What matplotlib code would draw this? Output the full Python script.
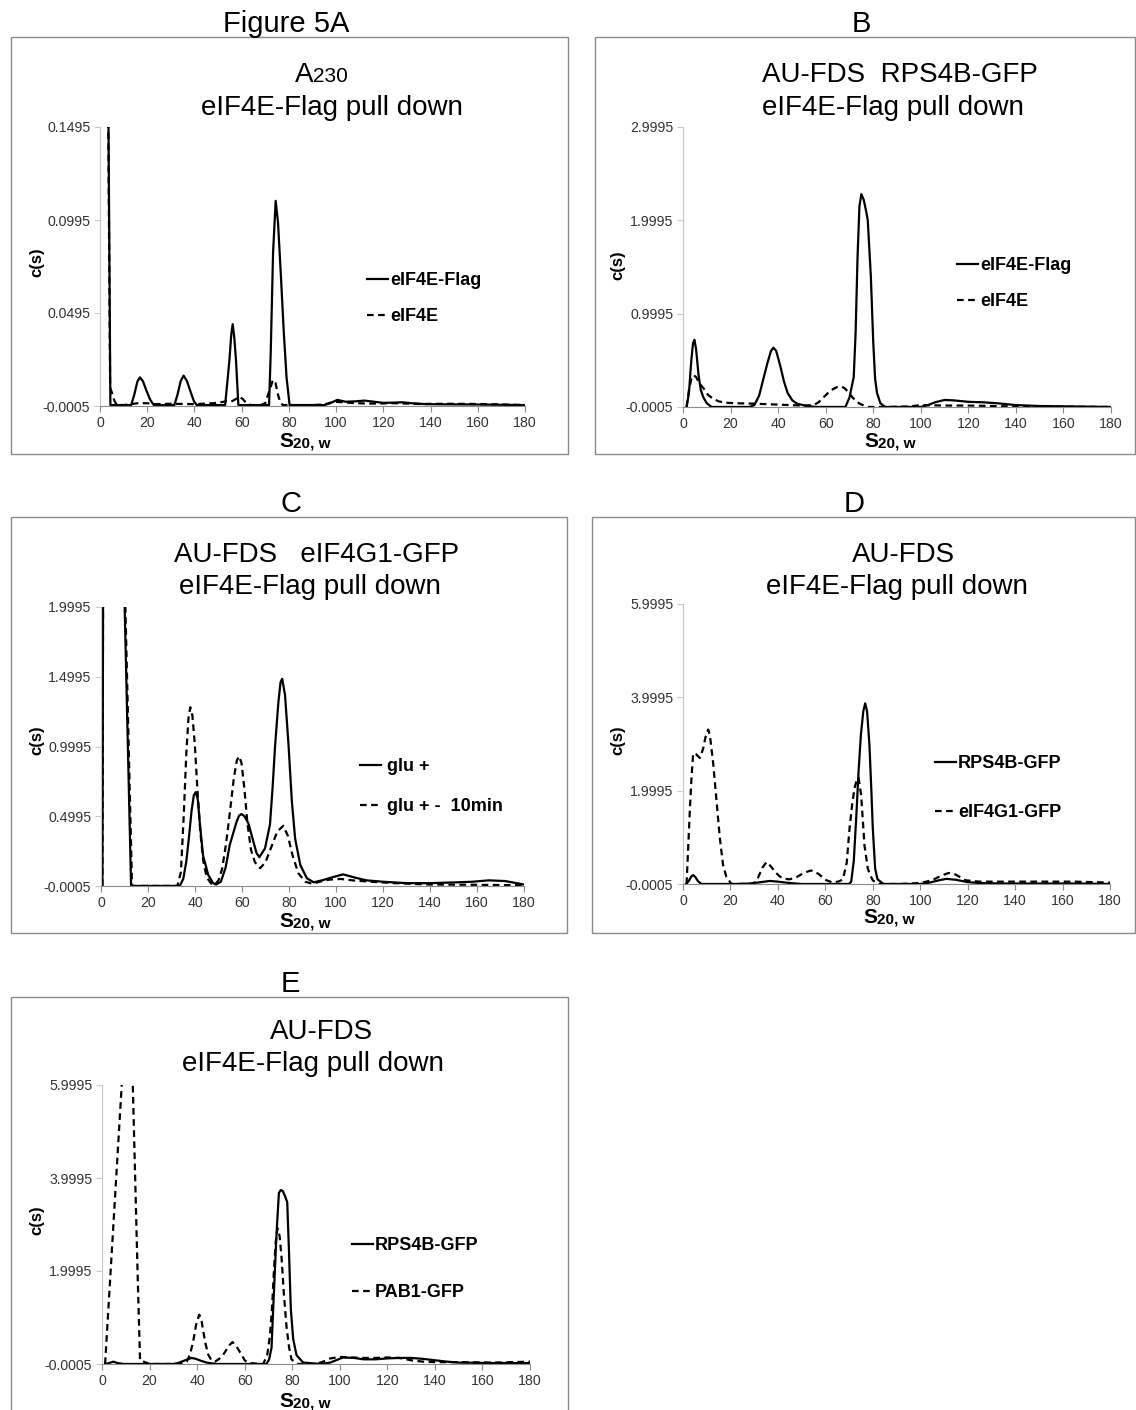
"""Figure 5: c(s) sedimentation profiles of eIF4E-Flag pull downs (panels A-E)."""

import matplotlib

matplotlib.use("Agg")
import matplotlib.pyplot as plt
from matplotlib.patches import Rectangle

W, H = 1136, 1410
INK = "#000000"
TICK_INK = "#333333"
BOX_GREY = "#8a8a8a"
LEFT_GREY = "#c8c8c8"
BOTTOM_GREY = "#8c8c8c"
DASH = (0, (3.0, 2.0))

plt.rcParams["font.family"] = ["Liberation Sans", "DejaVu Sans"]

X_TICKS = list(range(0, 181, 20))

# --- A: A230, eIF4E-Flag vs eIF4E -------------------------------------------
A_YTICKS = [-0.0005, 0.0495, 0.0995, 0.1495]
A_YLABELS = ["-0.0005", "0.0495", "0.0995", "0.1495"]
A_FLAG_X = [3.0, 3.6, 4.4, 6.0,
            13.2, 14.5, 15.8, 16.9, 18.2, 19.6, 21.2, 22.8,
            31.5, 32.8, 34.2, 35.4, 36.8, 38.4, 39.8, 41.0,
            53.0, 54.8, 55.6, 56.2, 56.9, 57.6, 58.6,
            71.6, 72.3, 73.3, 74.4, 75.4, 76.6, 77.8, 79.0, 80.3,
            95, 97.5, 100.5, 104, 108, 112, 116, 120, 124, 128, 132, 138, 145, 160, 180]
A_FLAG_Y = [0.30, 0.15, 0.0, 0.0,
            0.0, 0.0055, 0.0125, 0.0149, 0.0128, 0.0080, 0.0030, 0.0,
            0.0, 0.0055, 0.0130, 0.0158, 0.0130, 0.0070, 0.0020, 0.0,
            0.0, 0.024, 0.038, 0.0435, 0.036, 0.024, 0.0,
            0.0, 0.028, 0.082, 0.1098, 0.098, 0.070, 0.040, 0.015, 0.0,
            0.0, 0.0010, 0.0028, 0.0018, 0.0020, 0.0024, 0.0018, 0.0012, 0.0013, 0.0015,
            0.0010, 0.0005, 0.0004, 0.0003, 0.0]
A_CTRL_X = [2.8, 3.5, 4.3, 5.2, 6.2, 7.2,
            10, 13, 16, 20, 23, 30, 40, 48, 51, 53.5, 55.5, 57.5, 59.0, 60.5, 62.0, 64.0,
            68.0, 70.0, 71.0, 72.0, 73.2, 74.3, 75.5, 76.5, 77.5,
            90, 95, 99, 103, 108, 115, 125, 135, 150, 165, 180]
A_CTRL_Y = [0.30, 0.15, 0.0095, 0.0060, 0.0020, 0.0,
            0.0, 0.0005, 0.0010, 0.0010, 0.0005, 0.0007, 0.0005, 0.0010, 0.0015, 0.0020,
            0.0018, 0.0032, 0.0045, 0.0032, 0.0010, 0.0,
            0.0, 0.0010, 0.0050, 0.0085, 0.0135, 0.0120, 0.0050, 0.0010, 0.0,
            0.0, 0.0003, 0.0018, 0.0015, 0.0010, 0.0008, 0.0010, 0.0006, 0.0007, 0.0005, 0.0]

# --- B: AU-FDS RPS4B-GFP ------------------------------------------------------
B_YTICKS = [-0.0005, 0.9995, 1.9995, 2.9995]
B_YLABELS = ["-0.0005", "0.9995", "1.9995", "2.9995"]
B_FLAG_X = [1.5, 2.5, 3.5, 4.2, 4.8, 5.5, 6.5, 7.5, 8.6, 10.0, 12.0,
            28.0, 30.0, 32.0, 34.0, 35.5, 37.0, 38.0, 39.2, 40.8, 42.5, 44.0, 46.0, 48.0, 52.0, 56.0,
            68.3, 70.0, 71.8, 72.6, 73.4, 74.2, 75.0, 76.0, 77.0, 77.7, 79.0, 80.0, 80.8, 81.6, 83.0, 85.0,
            100, 103, 106, 110, 114, 120, 126, 132, 140, 150, 165, 180]
B_FLAG_Y = [0.0, 0.15, 0.50, 0.68, 0.72, 0.62, 0.35, 0.18, 0.10, 0.04, 0.0,
            0.0, 0.02, 0.12, 0.32, 0.47, 0.60, 0.635, 0.60, 0.45, 0.27, 0.15, 0.07, 0.035, 0.01, 0.0,
            0.0, 0.10, 0.32, 0.80, 1.60, 2.15, 2.28, 2.22, 2.10, 2.00, 1.40, 0.70, 0.30, 0.15, 0.04, 0.0,
            0.0, 0.02, 0.05, 0.075, 0.07, 0.055, 0.05, 0.04, 0.02, 0.01, 0.005, 0.0]
B_CTRL_X = [1.5, 2.5, 3.5, 4.5, 5.5, 7.0, 8.6, 10.5, 12.5, 15.0, 18.0, 22.0, 30.0, 40.0, 50.0,
            55.0, 57.0, 59.0, 61.0, 63.0, 65.0, 66.5, 68.0, 69.5, 71.0, 72.5, 74.0, 76.0, 78.0,
            85, 95, 100, 110, 120, 130, 140, 150, 165, 180]
B_CTRL_Y = [0.0, 0.18, 0.30, 0.34, 0.32, 0.25, 0.20, 0.13, 0.09, 0.06, 0.045, 0.04, 0.035, 0.025, 0.015,
            0.02, 0.05, 0.10, 0.15, 0.19, 0.215, 0.22, 0.20, 0.16, 0.11, 0.07, 0.04, 0.015, 0.0,
            0.0, 0.005, 0.02, 0.015, 0.015, 0.01, 0.005, 0.003, 0.002, 0.0]

# --- C: AU-FDS eIF4G1-GFP, glu + vs glu +- 10min ----------------------------
C_YTICKS = [-0.0005, 0.4995, 0.9995, 1.4995, 1.9995]
C_YLABELS = ["-0.0005", "0.4995", "0.9995", "1.4995", "1.9995"]
C_GLU_X = [0.6, 1.0, 9.5, 10.0, 12.8, 14.0, 33.5,
           35.0, 36.3, 37.5, 38.5, 39.5, 40.3, 41.2, 42.0, 43.4, 45.6, 47.7, 49.0,
           51.0, 53.0, 54.8, 57.7, 58.8, 59.8, 61.0, 62.7, 64.8, 66.2, 67.4,
           69.8, 71.9, 73.0, 74.1, 75.5, 76.4, 77.1, 78.3, 79.8, 81.2, 82.6, 84.8, 87.6, 90.5,
           94, 98, 103, 108, 113, 120, 130, 140, 150, 158, 165, 172, 180]
C_GLU_Y = [0.0, 3.0, 3.0, 2.05, 0.0, 0.0, 0.0,
           0.05, 0.175, 0.36, 0.534, 0.65, 0.672, 0.62, 0.46, 0.22, 0.08, 0.02, 0.01,
           0.03, 0.13, 0.295, 0.46, 0.505, 0.515, 0.50, 0.45, 0.32, 0.235, 0.206,
           0.27, 0.44, 0.70, 1.01, 1.32, 1.46, 1.485, 1.37, 1.01, 0.61, 0.34, 0.15, 0.055, 0.026,
           0.04, 0.06, 0.083, 0.06, 0.04, 0.03, 0.02, 0.02, 0.025, 0.03, 0.04, 0.035, 0.01]
C_SHIFT_X = [0.6, 1.0, 9.8, 10.3, 13.2, 14.5, 32.5,
             34.0, 35.2, 36.3, 37.2, 38.0, 38.9, 39.9, 41.0, 42.2, 43.5, 45.0, 47.0, 48.5,
             50.0, 51.5, 53.2, 55.0, 56.5, 57.8, 58.8, 59.8, 61.0, 62.3, 63.8, 65.5, 67.7,
             70.0, 72.5, 75.0, 77.6, 79.5, 81.5, 84.0, 87.0, 90.0, 93.0, 97.0, 102.0, 107.0,
             115.0, 125.0, 140.0, 160.0, 180.0]
C_SHIFT_Y = [0.0, 3.0, 3.0, 2.05, 0.0, 0.0, 0.0,
             0.10, 0.50, 0.95, 1.20, 1.281, 1.22, 1.02, 0.70, 0.40, 0.18, 0.06, 0.015, 0.01,
             0.04, 0.12, 0.30, 0.55, 0.77, 0.90, 0.929, 0.88, 0.70, 0.45, 0.26, 0.17, 0.127,
             0.17, 0.28, 0.39, 0.431, 0.36, 0.22, 0.09, 0.03, 0.015, 0.03, 0.045, 0.05, 0.04,
             0.03, 0.02, 0.01, 0.008, 0.005]

# --- D: AU-FDS, RPS4B-GFP vs eIF4G1-GFP --------------------------------------
DE_YTICKS = [-0.0005, 1.9995, 3.9995, 5.9995]
DE_YLABELS = ["-0.0005", "1.9995", "3.9995", "5.9995"]
D_RPS_X = [1.3, 2.5, 3.5, 4.3, 5.2, 6.3, 7.8,
           15.0, 22.0, 28.0, 33.0, 36.6, 40.0, 45.0, 50.0, 60.0, 70.0,
           70.9, 72.0, 73.0, 74.0, 75.0, 76.0, 76.8, 77.6, 78.6, 79.4, 80.0, 81.0, 82.0, 84.5,
           100, 104, 108, 111, 115, 120, 125, 135, 150, 165, 180]
D_RPS_Y = [0.0, 0.07, 0.16, 0.19, 0.15, 0.06, 0.0,
           0.0, 0.0, 0.01, 0.04, 0.065, 0.05, 0.02, 0.0, 0.0, 0.0,
           0.05, 0.5, 1.4, 2.4, 3.2, 3.7, 3.87, 3.7, 2.97, 2.0, 1.2, 0.33, 0.10, 0.0,
           0.0, 0.03, 0.08, 0.11, 0.09, 0.04, 0.02, 0.01, 0.01, 0.01, 0.0]
D_G1_X = [1.5, 2.2, 2.9, 3.6, 4.3, 5.5, 7.1, 8.5, 9.5, 10.6, 11.3, 12.7, 14.1, 15.5, 16.9, 18.3, 20.4,
          25.0, 29.6, 31.5, 33.5, 35.2, 37.0, 39.0, 40.8, 43.0, 45.0, 48.0, 51.0, 54.0, 57.0,
          60.4, 63.2, 66.0, 67.4,
          69.0, 70.2, 71.3, 72.3, 73.2, 74.0, 75.1, 76.5, 77.9, 79.0, 80.0, 81.3, 82.8,
          92, 100, 105, 109, 112, 115, 119, 125, 135, 150, 165, 180]
D_G1_Y = [0.0, 0.8, 1.6, 2.3, 2.8, 2.78, 2.70, 2.90, 3.15, 3.31, 3.2, 2.6, 1.8, 1.0, 0.4, 0.15, 0.0,
          0.0, 0.0, 0.12, 0.35, 0.47, 0.38, 0.25, 0.16, 0.11, 0.10, 0.15, 0.24, 0.29, 0.22,
          0.08, 0.03, 0.06, 0.10,
          0.45, 1.19, 1.70, 2.05, 2.22, 2.28, 1.90, 0.83, 0.33, 0.18, 0.08, 0.03, 0.0,
          0.0, 0.02, 0.08, 0.18, 0.236, 0.20, 0.08, 0.05, 0.05, 0.05, 0.05, 0.03]

# --- E: AU-FDS, RPS4B-GFP vs PAB1-GFP ----------------------------------------
E_RPS_X = [1.5, 3.0, 4.8, 6.5, 9.0, 20.0, 30.0,
           32.0, 34.0, 36.0, 37.7, 39.5, 41.5, 44.0, 48.0, 60.0, 69.2,
           70.3, 71.3, 72.0, 72.7, 73.4, 74.4, 75.2, 76.0, 76.9, 77.9, 78.6, 79.4, 80.4, 81.8, 84.6,
           92, 96, 101.4, 106, 110, 115, 120, 125, 130, 135, 140, 145, 150, 165, 180]
E_RPS_Y = [0.0, 0.02, 0.05, 0.02, 0.0, 0.0, 0.0,
           0.02, 0.06, 0.10, 0.13, 0.11, 0.07, 0.03, 0.0, 0.0, 0.0,
           0.1, 0.35, 1.19, 2.0, 2.8, 3.68, 3.74, 3.72, 3.62, 3.48, 2.48, 1.19, 0.54, 0.19, 0.03,
           0.0, 0.03, 0.14, 0.13, 0.10, 0.10, 0.12, 0.13, 0.13, 0.11, 0.08, 0.05, 0.03, 0.02, 0.02]
E_PAB_X = [1.3, 2.5, 4.0, 5.5, 7.0, 8.3, 10.6, 12.9, 14.0, 15.0, 16.0, 20.0, 33.0,
           35.6, 37.0, 38.4, 39.6, 40.9, 41.8, 42.6, 43.6, 44.7, 46.0, 47.5, 49.0, 50.3, 52.0,
           53.5, 54.9, 56.5, 58.7, 60.0, 61.5, 67.8,
           69.5, 70.6, 71.5, 72.3, 73.0, 73.8, 74.7, 75.5, 76.5, 77.6, 78.7, 79.7, 82.0,
           90, 93, 96, 100, 105, 110, 115, 120, 125, 130, 135, 140, 150, 165, 180]
E_PAB_Y = [0.0, 1.03, 2.31, 3.6, 4.89, 6.0, 8.0, 6.1, 3.9, 1.9, 0.08, 0.0, 0.0,
           0.05, 0.2, 0.5, 0.85, 1.06, 0.95, 0.7, 0.42, 0.2, 0.08, 0.05, 0.1, 0.15, 0.28,
           0.4, 0.47, 0.38, 0.2, 0.08, 0.02, 0.0,
           0.2, 0.6, 1.2, 2.0, 2.6, 2.92, 2.75, 2.3, 1.5, 0.8, 0.35, 0.1, 0.0,
           0.0, 0.05, 0.12, 0.15, 0.14, 0.13, 0.13, 0.14, 0.13, 0.08, 0.05, 0.04, 0.04, 0.03, 0.05]

# Layout in reference pixels (x right, y down).
PANELS = [
    dict(letter="Figure 5A", letter_xy=(286, 32), box=(11, 37, 568, 454),
         axes=(100, 525, 127, 406), title=("A230", "eIF4E-Flag pull down"),
         title_x=(320, 332), title_y=(82, 115),
         yticks=A_YTICKS, ylabels=A_YLABELS,
         solid=(A_FLAG_X, A_FLAG_Y), dashed=(A_CTRL_X, A_CTRL_Y),
         labels=("eIF4E-Flag", "eIF4E"), legend=(367, 280, 317), pad=0.12,
         ylab=(37, 262), xlab=(305, 447)),
    dict(letter="B", letter_xy=(861, 32), box=(595, 37, 1135, 454),
         axes=(683, 1111, 127, 407), title=("AU-FDS  RPS4B-GFP", "eIF4E-Flag pull down"),
         title_x=(900, 893), title_y=(82, 115),
         yticks=B_YTICKS, ylabels=B_YLABELS,
         solid=(B_FLAG_X, B_FLAG_Y), dashed=(B_CTRL_X, B_CTRL_Y),
         labels=("eIF4E-Flag", "eIF4E"), legend=(957, 265, 302), pad=0.12,
         ylab=(618, 265), xlab=(890, 447)),
    dict(letter="C", letter_xy=(291, 512), box=(11, 517, 567, 933),
         axes=(101, 524, 607, 886), title=("AU-FDS   eIF4G1-GFP", "eIF4E-Flag pull down"),
         title_x=(317, 310), title_y=(562, 594),
         yticks=C_YTICKS, ylabels=C_YLABELS,
         solid=(C_GLU_X, C_GLU_Y), dashed=(C_SHIFT_X, C_SHIFT_Y),
         labels=("glu +", "glu + -  10min"), legend=(360, 766, 807), pad=0.35,
         ylab=(37, 740), xlab=(305, 927)),
    dict(letter="D", letter_xy=(854, 512), box=(592, 517, 1135, 933),
         axes=(683, 1110, 604, 884), title=("AU-FDS", "eIF4E-Flag pull down"),
         title_x=(903, 897), title_y=(562, 594),
         yticks=DE_YTICKS, ylabels=DE_YLABELS,
         solid=(D_RPS_X, D_RPS_Y), dashed=(D_G1_X, D_G1_Y),
         labels=("RPS4B-GFP", "eIF4G1-GFP"), legend=(935, 763, 813), pad=0.12,
         ylab=(618, 740), xlab=(889, 923)),
    dict(letter="E", letter_xy=(290, 992), box=(11, 997, 568, 1420),
         axes=(102, 530, 1085, 1364), title=("AU-FDS", "eIF4E-Flag pull down"),
         title_x=(321, 313), title_y=(1039, 1071),
         yticks=DE_YTICKS, ylabels=DE_YLABELS,
         solid=(E_RPS_X, E_RPS_Y), dashed=(E_PAB_X, E_PAB_Y),
         labels=("RPS4B-GFP", "PAB1-GFP"), legend=(352, 1245, 1293), pad=0.12,
         ylab=(37, 1220), xlab=(305, 1407)),
]


def fx(x: float) -> float:
    return x / W


def fy(y: float) -> float:
    return 1 - y / H


def draw_panel(fig: plt.Figure, p: dict) -> None:
    bx0, by0, bx1, by1 = p["box"]
    fig.add_artist(Rectangle((fx(bx0), fy(by1)), (bx1 - bx0) / W, (by1 - by0) / H,
                             transform=fig.transFigure, fill=False,
                             edgecolor=BOX_GREY, linewidth=1.0))
    lx, ly = p["letter_xy"]
    fig.text(fx(lx), fy(ly), p["letter"], ha="center", va="baseline", fontsize=21, color=INK)

    line1, line2 = p["title"]
    t1x, t2x = p["title_x"]
    t1y, t2y = p["title_y"]
    if line1 == "A230":
        # large A with smaller 230 on the same baseline
        fig.text(fx(t1x - 7), fy(t1y), "A", ha="right", va="baseline", fontsize=20)
        fig.text(fx(t1x - 7), fy(t1y), "230", ha="left", va="baseline", fontsize=15)
    else:
        fig.text(fx(t1x), fy(t1y), line1, ha="center", va="baseline", fontsize=20)
    fig.text(fx(t2x), fy(t2y), line2, ha="center", va="baseline", fontsize=20)

    x0, x1, ytop, ybot = p["axes"]
    ax = fig.add_axes([fx(x0), fy(ybot), (x1 - x0) / W, (ybot - ytop) / H])
    sx, sy = p["solid"]
    dx, dy = p["dashed"]
    solid, = ax.plot(sx, sy, color=INK, linewidth=1.6, solid_joinstyle="round")
    dashed, = ax.plot(dx, dy, color=INK, linewidth=1.6, linestyle=DASH)
    ax.set_xlim(0, 180)
    ax.set_ylim(p["yticks"][0], p["yticks"][-1])
    ax.set_xticks(X_TICKS)
    ax.set_yticks(p["yticks"], p["ylabels"])
    ax.spines[["top", "right"]].set_visible(False)
    ax.spines["left"].set_color(LEFT_GREY)
    ax.spines["bottom"].set_color(BOTTOM_GREY)
    ax.tick_params(axis="y", length=4, color=LEFT_GREY, labelsize=10.2,
                   labelcolor=TICK_INK, pad=3)
    ax.tick_params(axis="x", length=4, color=BOTTOM_GREY, labelsize=10.2,
                   labelcolor=TICK_INK, pad=3)

    lx0, r1, r2 = p["legend"]
    ax.legend([solid, dashed], p["labels"], loc="center left",
              bbox_to_anchor=(fx(lx0), fy((r1 + r2) / 2)), bbox_transform=fig.transFigure,
              frameon=False, borderpad=0, borderaxespad=0, handlelength=1.15,
              handletextpad=p["pad"], labelspacing=(r2 - r1) / 18.0 - 1.0,
              prop={"weight": "bold", "size": 13})

    yx, yy = p["ylab"]
    fig.text(fx(yx), fy(yy), "c(s)", rotation=90, ha="center", va="center",
             fontsize=12, fontweight="bold")
    cx, base = p["xlab"]
    fig.text(fx(cx - 12), fy(base), "S", ha="right", va="baseline",
             fontsize=15, fontweight="bold")
    fig.text(fx(cx - 12), fy(base), "20, w", ha="left", va="baseline",
             fontsize=11, fontweight="bold")


fig = plt.figure(figsize=(W / 100, H / 100), dpi=100)
for panel in PANELS:
    draw_panel(fig, panel)
fig.savefig("out.png", dpi=100, facecolor="white")
plt.close(fig)
